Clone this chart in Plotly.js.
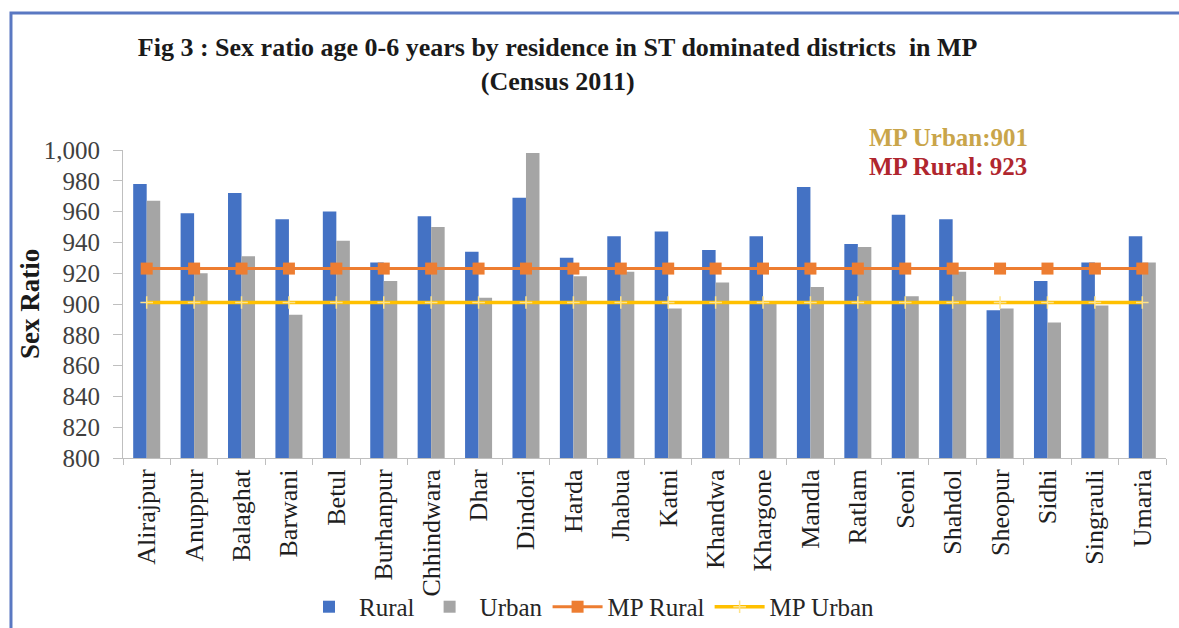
<!DOCTYPE html>
<html>
<head>
<meta charset="utf-8">
<script src="https://cdn.plot.ly/plotly-3.0.1.min.js"></script>
<style>
  html, body { margin: 0; padding: 0; background: #ffffff; }
  #chart { width: 1179px; height: 628px; }
</style>
</head>
<body>
<div id="chart"></div>
<script>
// Districts (ST dominated, Madhya Pradesh)
const districts = [
  'Alirajpur', 'Anuppur', 'Balaghat', 'Barwani', 'Betul', 'Burhanpur',
  'Chhindwara', 'Dhar', 'Dindori', 'Harda', 'Jhabua', 'Katni', 'Khandwa',
  'Khargone', 'Mandla', 'Ratlam', 'Seoni', 'Shahdol', 'Sheopur', 'Sidhi',
  'Singrauli', 'Umaria'
];

// Child sex ratio (0-6 years), Census 2011
const rural = [978, 959, 972, 955, 960, 927, 957, 934, 969, 930, 944, 947, 935, 944, 976, 939, 958, 955, 896, 915, 927, 944];
const urban = [967, 920, 931, 893, 941, 915, 950, 904, 998, 918, 921, 897, 914, 900, 911, 937, 905, 921, 897, 888, 899, 927];

// State-level reference values
const mpRural = [923, 923, 923, 923, 923, 923, 923, 923, 923, 923, 923, 923, 923, 923, 923, 923, 923, 923, 923, 923, 923, 923];
const mpUrban = [901, 901, 901, 901, 901, 901, 901, 901, 901, 901, 901, 901, 901, 901, 901, 901, 901, 901, 901, 901, 901, 901];

const yTicks = [800, 820, 840, 860, 880, 900, 920, 940, 960, 980, 1000];

const serif = 'Liberation Serif, Times New Roman, serif';

const traces = [
  {
    type: 'bar', name: 'Rural', x: districts, y: rural,
    marker: { color: '#4472C4' }
  },
  {
    type: 'bar', name: 'Urban', x: districts, y: urban,
    marker: { color: '#A5A5A5' }
  },
  {
    type: 'scatter', mode: 'lines+markers', name: 'MP Rural', x: districts, y: mpRural,
    line: { color: '#ED7D31', width: 3 },
    marker: { symbol: 'square', size: 12, color: '#ED7D31' }
  },
  {
    type: 'scatter', mode: 'lines+markers', name: 'MP Urban', x: districts, y: mpUrban,
    line: { color: '#FFC000', width: 3.5 },
    marker: { symbol: 'cross-thin-open', size: 9, color: '#FFE38A', line: { color: '#F3D36A', width: 1.5 } }
  }
];

const layout = {
  width: 1179,
  height: 628,
  paper_bgcolor: '#ffffff',
  plot_bgcolor: '#ffffff',
  margin: { l: 123, r: 13, t: 150, b: 170 },
  barmode: 'group',
  bargap: 0.43,
  bargroupgap: 0,
  showlegend: true,
  font: { family: serif, color: '#262626', size: 24 },
  title: {
    text: '<b>Fig 3 : Sex ratio age 0-6 years by residence in ST dominated districts  in MP<br>(Census 2011)</b>',
    font: { family: serif, size: 26, color: '#1a1a1a' },
    x: 0.473, xanchor: 'center',
    y: 0.911, yanchor: 'top'
  },
  xaxis: {
    type: 'category',
    range: [-0.5, 21.5],
    automargin: false,
    tickangle: -90,
    tickfont: { family: serif, size: 26, color: '#1f1f1f' },
    showline: true, linecolor: '#bfbfbf', linewidth: 1,
    ticks: 'outside', tickson: 'boundaries', ticklen: 6, tickcolor: '#bfbfbf',
    showgrid: false, zeroline: false
  },
  yaxis: {
    range: [800, 1000],
    automargin: false,
    tickvals: yTicks,
    tickformat: ',d',
    tickfont: { family: serif, size: 25, color: '#404040' },
    showline: true, linecolor: '#bfbfbf', linewidth: 1,
    ticks: 'outside', ticklen: 9, tickcolor: '#bfbfbf',
    ticklabelstandoff: 8,
    showgrid: false, zeroline: false
  },
  legend: {
    orientation: 'h',
    xref: 'container', yref: 'container',
    x: 0.5, xanchor: 'center',
    y: 0.0335, yanchor: 'middle',
    itemwidth: 50,
    font: { family: serif, size: 25, color: '#262626' },
    bgcolor: 'rgba(0,0,0,0)'
  },
  annotations: [
    {
      xref: 'paper', yref: 'paper', x: -0.0892, y: 0.5, xanchor: 'center', yanchor: 'middle',
      textangle: -90, text: '<b>Sex Ratio</b>', showarrow: false,
      font: { family: serif, size: 27, color: '#1a1a1a' }
    },
    {
      xref: 'paper', yref: 'paper', x: 0.713, y: 1.042, xanchor: 'left', yanchor: 'middle',
      text: '<b>MP Urban:' + mpUrban[0] + '</b>', showarrow: false,
      font: { family: serif, size: 25, color: '#C9A54A' }
    },
    {
      xref: 'paper', yref: 'paper', x: 0.713, y: 0.945, xanchor: 'left', yanchor: 'middle',
      text: '<b>MP Rural: ' + mpRural[0] + '</b>', showarrow: false,
      font: { family: serif, size: 25, color: '#B0262E' }
    }
  ],
  shapes: [
    {
      type: 'path', xref: 'paper', yref: 'paper', layer: 'above',
      path: 'M -0.1074 -0.6 L -0.1074 1.4448 L 1.06 1.4448',
      line: { color: '#5A78C2', width: 3 }
    }
  ]
};

Plotly.newPlot('chart', traces, layout, { displayModeBar: false, staticPlot: true });
</script>
</body>
</html>
